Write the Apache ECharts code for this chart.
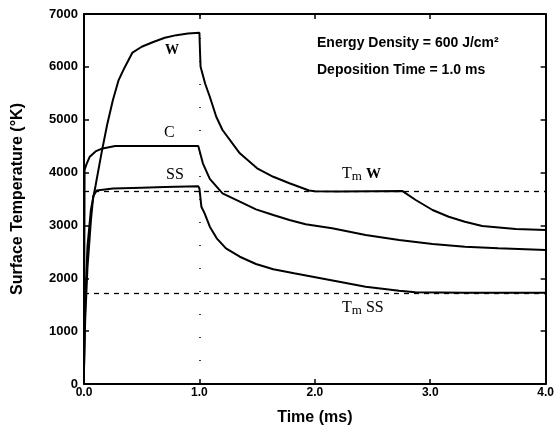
<!DOCTYPE html>
<html><head><meta charset="utf-8">
<script src="https://cdn.jsdelivr.net/npm/echarts@6/dist/echarts.min.js"></script>
<style>html,body{margin:0;padding:0;background:#fff}#c{width:557px;height:431px}</style>
</head><body><div id="c"></div>
<script>
const xTicks = [0, 1, 2, 3, 4];
const yTicks = [0, 1000, 2000, 3000, 4000, 5000, 6000, 7000];
const tmW = 3640;
const tmSS = 1720;

const wTime = [0,0.01,0.03,0.06,0.1,0.15,0.2,0.25,0.3,0.35,0.42,0.5,0.6,0.7,0.8,0.9,1.0,1.005,1.01,1.05,1.09,1.146,1.2,1.35,1.5,1.64,1.78,1.95,2.0,2.2,2.5,2.76,2.874,3.02,3.16,3.3,3.45,3.74,4.0];
const wTemp = [300,1500,2600,3300,3750,4350,4900,5370,5750,5980,6270,6380,6470,6550,6600,6630,6646,6300,6000,5680,5435,5057,4805,4364,4080,3920,3797,3660,3645,3640,3645,3650,3481,3292,3165,3070,2989,2932,2913];

const cTime = [0,0.005,0.02,0.05,0.1,0.15,0.27,0.99,1.0,1.03,1.09,1.2,1.35,1.49,1.64,1.78,1.92,2.15,2.44,2.73,3.02,3.3,3.59,4.0];
const cTemp = [300,4050,4150,4300,4400,4450,4502,4502,4480,4175,3880,3607,3449,3304,3197,3103,3021,2945,2819,2724,2649,2598,2567,2535];

const sTime = [0,0.01,0.03,0.06,0.08,0.11,0.25,0.5,0.7,0.99,1.0,1.017,1.045,1.09,1.15,1.23,1.35,1.49,1.64,1.82,2.2,2.44,2.73,2.87,3.3,4.0];
const sTemp = [300,1200,2200,3100,3550,3660,3700,3715,3725,3740,3700,3354,3229,2976,2756,2567,2408,2270,2170,2094,1940,1841,1765,1735,1725,1725];

const zip = (a, b) => a.map((v, i) => [v, b[i]]);
const lineStyle = {color: '#000', width: 2};
const chart = echarts.init(document.getElementById('c'));
const axisCommon = () => ({
  axisLine: {show: true, onZero: false, lineStyle: {color: '#000', width: 2}},
  axisTick: {show: true, inside: true, length: 5, lineStyle: {color: '#000', width: 1.5}},
  splitLine: {show: false}
});
const serifRich = {
  a: {font: '16px "Liberation Serif"', fill: '#000'},
  b: {font: '13px "Liberation Serif"', fill: '#000', verticalAlign: 'bottom', padding: [5, 0, 0, 0]},
  w: {font: 'bold 15px "Liberation Serif"', fill: '#000'}
};
chart.setOption({
  animation: false,
  grid: {left: 84, top: 14, right: 10, bottom: 47},
  xAxis: [
    Object.assign({type: 'value', min: xTicks[0], max: xTicks[xTicks.length - 1], interval: 1,
      name: 'Time (ms)', nameLocation: 'middle', nameGap: 26,
      nameTextStyle: {fontFamily: 'Liberation Sans', fontWeight: 'bold', fontSize: 16, color: '#000'},
      axisLabel: {formatter: v => v.toFixed(1), fontFamily: 'Liberation Sans', fontWeight: 'bold', fontSize: 12, color: '#000', margin: 3}}, axisCommon()),
    Object.assign({type: 'value', min: 0, max: 4, interval: 1, position: 'top', axisLabel: {show: false}}, axisCommon())
  ],
  yAxis: [
    Object.assign({type: 'value', min: yTicks[0], max: yTicks[yTicks.length - 1], interval: 1000,
      name: 'Surface Temperature (°K)', nameLocation: 'middle', nameGap: 58,
      nameTextStyle: {fontFamily: 'Liberation Sans', fontWeight: 'bold', fontSize: 16, color: '#000'},
      axisLabel: {formatter: v => String(v), fontFamily: 'Liberation Sans', fontWeight: 'bold', fontSize: 13, color: '#000', margin: 6}}, axisCommon()),
    Object.assign({type: 'value', min: 0, max: 7000, interval: 1000, position: 'right', axisLabel: {show: false}}, axisCommon())
  ],
  series: [
    {type: 'line', data: zip(wTime, wTemp), showSymbol: false, lineStyle,
      markLine: {silent: true, symbol: 'none', label: {show: false},
        lineStyle: {color: '#000', type: [5, 5], width: 1.3},
        data: [{yAxis: tmW}, {yAxis: tmSS}]}},
    {type: 'line', data: zip(cTime, cTemp), showSymbol: false, lineStyle,
      markLine: {silent: true, symbol: 'none', label: {show: false},
        lineStyle: {color: '#000', type: [1, 22], width: 1.5},
        data: [{xAxis: 1}]}},
    {type: 'line', data: zip(sTime, sTemp), showSymbol: false, lineStyle}
  ],
  graphic: [
    {type: 'text', left: 317, top: 36, style: {text: 'Energy Density = 600 J/cm²', font: 'bold 14px "Liberation Sans"', fill: '#000'}},
    {type: 'text', left: 317, top: 63, style: {text: 'Deposition Time = 1.0 ms', font: 'bold 14px "Liberation Sans"', fill: '#000'}},
    {type: 'text', left: 165, top: 43, style: {text: 'W', font: 'bold 14px "Liberation Serif"', fill: '#000'}},
    {type: 'text', left: 164, top: 125, style: {text: 'C', font: '16px "Liberation Serif"', fill: '#000'}},
    {type: 'text', left: 166, top: 167, style: {text: 'SS', font: '16px "Liberation Serif"', fill: '#000'}},
    {type: 'text', left: 342, top: 166, style: {rich: serifRich, text: '{a|T}{b|m}{a| }{w|W}'}},
    {type: 'text', left: 342, top: 300, style: {rich: serifRich, text: '{a|T}{b|m}{a| SS}'}}
  ]
});
</script></body></html>
